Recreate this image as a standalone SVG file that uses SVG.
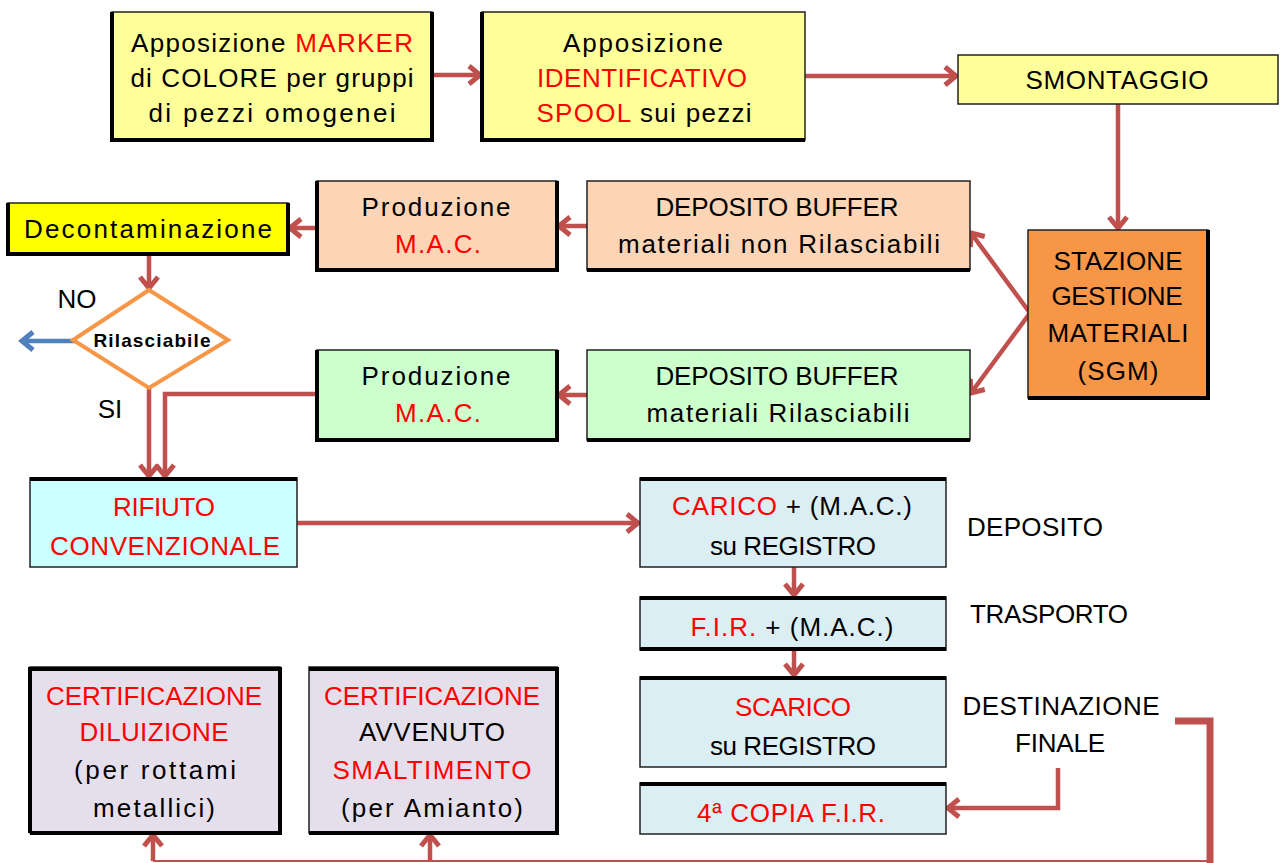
<svg xmlns="http://www.w3.org/2000/svg" width="1283" height="863" viewBox="0 0 1283 863">
<style>
.box{stroke:#222;stroke-width:1.5}
.thk{stroke:#000;stroke-width:4;fill:none}
.t{font-family:"Liberation Sans",Arial,sans-serif;font-size:26px;fill:#000;text-anchor:middle}
.r{fill:#FF0000}
.c{fill:none;stroke:#C0504D;stroke-width:4.5}
</style>
<defs>
<marker id="ah" markerWidth="24" markerHeight="24" refX="16" refY="12" orient="auto" markerUnits="userSpaceOnUse">
<path d="M5,3 L16,12 L5,21" fill="none" stroke="#C0504D" stroke-width="5"/>
</marker>
<marker id="ahb" markerWidth="24" markerHeight="24" refX="16" refY="12" orient="auto" markerUnits="userSpaceOnUse">
<path d="M5,3 L16,12 L5,21" fill="none" stroke="#4F81BD" stroke-width="5"/>
</marker>
</defs>
<rect width="1283" height="863" fill="#fff"/>

<g id="connectors">
<line class="c" x1="432" y1="75" x2="480" y2="75" marker-end="url(#ah)"/>
<line class="c" x1="805" y1="76" x2="956" y2="76" marker-end="url(#ah)"/>
<line class="c" x1="1118" y1="104" x2="1118" y2="228" marker-end="url(#ah)"/>
<line class="c" x1="1030" y1="313" x2="971" y2="233" marker-end="url(#ah)"/>
<line class="c" x1="1030" y1="313" x2="971" y2="393" marker-end="url(#ah)"/>
<line class="c" x1="587" y1="226" x2="559" y2="226" marker-end="url(#ah)"/>
<line class="c" x1="317" y1="228" x2="290" y2="228" marker-end="url(#ah)"/>
<line class="c" x1="149" y1="254" x2="149" y2="288" marker-end="url(#ah)"/>
<line x1="78" y1="341" x2="22" y2="341" fill="none" stroke="#4F81BD" stroke-width="4.5" marker-end="url(#ahb)"/>
<line class="c" x1="149" y1="388" x2="149" y2="476" marker-end="url(#ah)"/>
<line class="c" x1="587" y1="395" x2="559" y2="395" marker-end="url(#ah)"/>
<polyline class="c" points="319,394 165,394 165,476" marker-end="url(#ah)"/>
<line class="c" x1="297" y1="523" x2="638" y2="523" marker-end="url(#ah)"/>
<line class="c" x1="794" y1="567" x2="794" y2="595" marker-end="url(#ah)"/>
<line class="c" x1="794" y1="650" x2="794" y2="675" marker-end="url(#ah)"/>
<polyline class="c" points="1058,768 1058,808 948,808" stroke-width="6" marker-end="url(#ah)"/>
<polyline fill="none" stroke="#C0504D" stroke-width="7" points="1175,721 1210,721 1210,863"/>
<line x1="1210" y1="861" x2="153" y2="861" stroke="#C0504D" stroke-width="2"/>
<line class="c" x1="153" y1="861" x2="153" y2="835" marker-end="url(#ah)"/>
<line class="c" x1="430" y1="861" x2="430" y2="835" marker-end="url(#ah)"/>
</g>

<g id="n-marker">
<rect class="box" x="112" y="12" width="320" height="128" fill="#FFFF99"/>
<path class="thk" d="M112,12 V140 H432 V12"/>
<text class="t" x="272" y="52" textLength="282"><tspan>Apposizione </tspan><tspan class="r">MARKER</tspan></text>
<text class="t" x="272" y="87" textLength="283">di COLORE per gruppi</text>
<text class="t" x="272" y="122" textLength="247">di pezzi omogenei</text>
</g>

<g id="n-spool">
<rect class="box" x="482" y="12" width="323" height="128" fill="#FFFF99"/>
<path class="thk" d="M482,12 V140 H805"/>
<text class="t" x="643" y="52" textLength="160">Apposizione</text>
<text class="t r" x="642" y="87" textLength="210">IDENTIFICATIVO</text>
<text class="t" x="644" y="122" textLength="215"><tspan class="r">SPOOL</tspan><tspan> sui pezzi</tspan></text>
</g>

<g id="n-smontaggio">
<rect class="box" x="958" y="55" width="320" height="49" fill="#FFFF99"/>
<text class="t" x="1117" y="89" textLength="183">SMONTAGGIO</text>
</g>

<g id="n-sgm">
<rect class="box" x="1028" y="230" width="180" height="168" fill="#F79646"/>
<path class="thk" d="M1028,398 H1208 V230"/>
<text class="t" x="1118" y="270" textLength="129">STAZIONE</text>
<text class="t" x="1117" y="305" textLength="131">GESTIONE</text>
<text class="t" x="1118" y="342" textLength="141">MATERIALI</text>
<text class="t" x="1118" y="380" textLength="81">(SGM)</text>
</g>

<g id="n-depnon">
<rect class="box" x="587" y="181" width="383" height="89" fill="#FBD5B5"/>
<path class="thk" d="M587,270 H970"/>
<text class="t" x="777" y="216" textLength="243">DEPOSITO BUFFER</text>
<text class="t" x="779" y="253" textLength="322">materiali non Rilasciabili</text>
</g>

<g id="n-prodor">
<rect class="box" x="317" y="181" width="240" height="89" fill="#FBD5B5"/>
<path class="thk" d="M317,181 V270 H557 V181"/>
<text class="t" x="436" y="216" textLength="149">Produzione</text>
<text class="t r" x="438" y="253" textLength="86">M.A.C.</text>
</g>

<g id="n-decon">
<rect class="box" x="8" y="203" width="280" height="51" fill="#FFFF00"/>
<path class="thk" d="M8,203 V254 H288 V203"/>
<text class="t" x="148" y="238" textLength="248">Decontaminazione</text>
</g>

<g id="n-rilasciabile">
<polygon points="149,290 228,340 149,388 73,340" fill="#fff" stroke="#F79646" stroke-width="4"/>
<text x="152" y="347" font-family="'Liberation Sans',Arial,sans-serif" font-size="19" font-weight="bold" text-anchor="middle" textLength="117">Rilasciabile</text>
<text class="t" x="77" y="308">NO</text>
<text class="t" x="110" y="418">SI</text>
</g>

<g id="n-prodgr">
<rect class="box" x="317" y="350" width="240" height="90" fill="#CCFFCC"/>
<path class="thk" d="M317,350 V440 H557 V350"/>
<text class="t" x="436" y="385" textLength="149">Produzione</text>
<text class="t r" x="438" y="422" textLength="86">M.A.C.</text>
</g>

<g id="n-depr">
<rect class="box" x="587" y="350" width="383" height="90" fill="#CCFFCC"/>
<path class="thk" d="M587,440 H970"/>
<text class="t" x="777" y="385" textLength="243">DEPOSITO BUFFER</text>
<text class="t" x="778" y="422" textLength="263">materiali Rilasciabili</text>
</g>

<g id="n-rifiuto">
<rect class="box" x="30" y="478" width="267" height="89" fill="#CCFFFF"/>
<path class="thk" d="M30,479 H297"/>
<text class="t r" x="164" y="516" textLength="102">RIFIUTO</text>
<text class="t r" x="165" y="555" textLength="230">CONVENZIONALE</text>
</g>

<g id="n-carico">
<rect class="box" x="640" y="478" width="306" height="89" fill="#DBEEF4"/>
<path class="thk" d="M640,479 H946"/>
<text class="t" x="792" y="515" textLength="240"><tspan class="r">CARICO</tspan><tspan> + (M.A.C.)</tspan></text>
<text class="t" x="793" y="555" textLength="166">su REGISTRO</text>
</g>

<g id="n-fir">
<rect class="box" x="640" y="597" width="306" height="53" fill="#DBEEF4"/>
<path class="thk" d="M640,598 H946 M640,649 H946"/>
<text class="t" x="792" y="636" textLength="203"><tspan class="r">F.I.R.</tspan><tspan> + (M.A.C.)</tspan></text>
</g>

<g id="n-scarico">
<rect class="box" x="640" y="677" width="306" height="90" fill="#DBEEF4"/>
<path class="thk" d="M640,678 H946"/>
<text class="t r" x="793" y="716" textLength="116">SCARICO</text>
<text class="t" x="793" y="755" textLength="166">su REGISTRO</text>
</g>

<g id="n-copia">
<rect class="box" x="640" y="783" width="306" height="51" fill="#DBEEF4"/>
<path class="thk" d="M640,784 H946"/>
<text class="t r" x="791" y="822" textLength="188">4ª COPIA F.I.R.</text>
</g>

<g id="labels">
<text class="t" x="1035" y="536" textLength="136">DEPOSITO</text>
<text class="t" x="1049" y="623" textLength="158">TRASPORTO</text>
<text class="t" x="1061" y="715" textLength="197">DESTINAZIONE</text>
<text class="t" x="1060" y="752" textLength="90">FINALE</text>
</g>

<g id="n-certa">
<rect class="box" x="30" y="667" width="250" height="166" fill="#E5DFEC"/>
<path class="thk" d="M30,833 V669 H280 V833 H30"/>
<text class="t r" x="154" y="705" textLength="216">CERTIFICAZIONE</text>
<text class="t r" x="154" y="741" textLength="149">DILUIZIONE</text>
<text class="t" x="155" y="779" textLength="162">(per rottami</text>
<text class="t" x="154" y="817" textLength="122">metallici)</text>
</g>

<g id="n-certb">
<rect class="box" x="309" y="667" width="248" height="166" fill="#E5DFEC"/>
<path class="thk" d="M309,669 H557 V833 H309"/>
<text class="t r" x="432" y="705" textLength="216">CERTIFICAZIONE</text>
<text class="t" x="432" y="741" textLength="146">AVVENUTO</text>
<text class="t r" x="432" y="779" textLength="199">SMALTIMENTO</text>
<text class="t" x="432" y="817" textLength="182">(per Amianto)</text>
</g>
</svg>
